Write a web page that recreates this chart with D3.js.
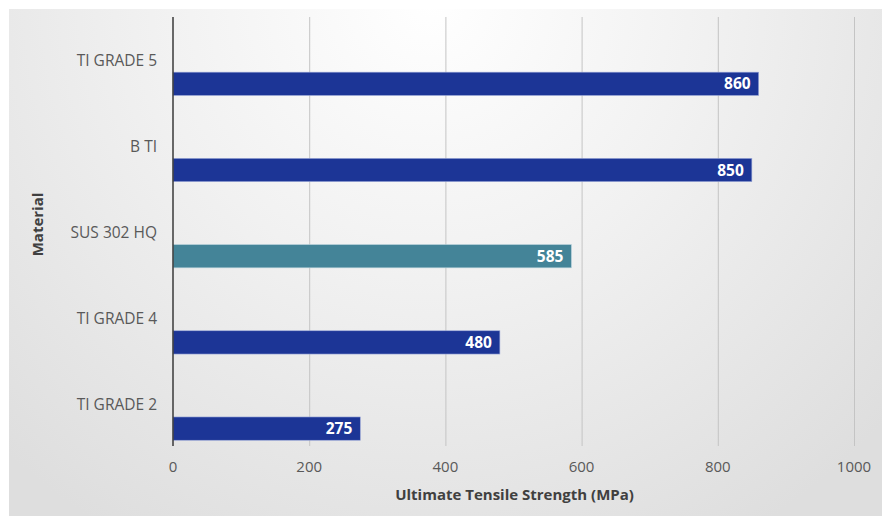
<!DOCTYPE html>
<html>
<head>
<meta charset="utf-8">
<script src="https://cdn.jsdelivr.net/npm/d3@7"></script>
<style>
html,body{margin:0;padding:0;background:#fff;}
svg{display:block;}
</style>
</head>
<body>
<svg id="chart" width="882" height="516"></svg>
<script>
const categories = ["TI GRADE 5", "B TI", "SUS 302 HQ", "TI GRADE 4", "TI GRADE 2"];
const values = [860, 850, 585, 480, 275];
const highlight = ["SUS 302 HQ"];
const xTicks = [0, 200, 400, 600, 800, 1000];
const xTitle = "Ultimate Tensile Strength (MPa)";
const yTitle = "Material";

const W = 882, H = 516;
const svg = d3.select("#chart");
const defs = svg.append("defs");
const grad = defs.append("radialGradient").attr("id","bg")
  .attr("gradientUnits","userSpaceOnUse")
  .attr("cx", 430).attr("cy", 0).attr("r", 620);
grad.append("stop").attr("offset","0%").attr("stop-color","#ffffff");
grad.append("stop").attr("offset","45%").attr("stop-color","#f1f1f1");
grad.append("stop").attr("offset","100%").attr("stop-color","#dedede");

svg.append("rect").attr("x",9).attr("y",9).attr("width",W-9).attr("height",H-9).attr("fill","url(#bg)");

const m = {left:173, right:854, top:17, bottom:448};
const x = d3.scaleLinear().domain([0,1000]).range([m.left, m.right]);
const y = d3.scaleBand().domain(categories).range([m.top, m.bottom]).padding(0);

const font = "'Open Sans', 'Liberation Sans', sans-serif";

// gridlines
svg.append("g").selectAll("line").data(xTicks.filter(d=>d>0)).join("line")
  .attr("x1", d=>x(d)+0.5).attr("x2", d=>x(d)+0.5)
  .attr("y1", m.top).attr("y2", 446)
  .attr("stroke","#c4c4c4").attr("stroke-width",1);

// bars
const bw = y.bandwidth();
const barH = bw*0.27;
const barOff = bw*0.5 + bw*0.14;
svg.append("g").selectAll("rect").data(categories).join("rect")
  .attr("x", x(0))
  .attr("y", d=>y(d)+barOff)
  .attr("width", (d,i)=>x(values[i])-x(0))
  .attr("height", barH)
  .attr("fill", d=>highlight.includes(d) ? "#448498" : "#1c3596")
  .attr("stroke", d=>highlight.includes(d) ? "#b9d3dc" : "#9aa7d8")
  .attr("stroke-width", 0.6);

// value labels
svg.append("g").selectAll("text").data(categories).join("text")
  .attr("x", (d,i)=>x(values[i])-8)
  .attr("y", d=>y(d)+barOff+barH/2)
  .attr("dy","0.36em")
  .attr("text-anchor","end")
  .attr("fill","#ffffff")
  .attr("font-family",font).attr("font-weight","bold").attr("font-size",15.5)
  .text((d,i)=>values[i]);

// y axis line
svg.append("line").attr("x1",m.left).attr("x2",m.left).attr("y1",m.top).attr("y2",446)
  .attr("stroke","#3a3a3a").attr("stroke-width",1.5);

// category labels
svg.append("g").selectAll("text").data(categories).join("text")
  .attr("x", 157)
  .attr("y", d=>y(d)+bw/2)
  .attr("dy","0.36em")
  .attr("text-anchor","end")
  .attr("fill","#595959")
  .attr("font-family",font).attr("font-size",15.5)
  .text(d=>d);

// x tick labels
svg.append("g").selectAll("text").data(xTicks).join("text")
  .attr("x", d=>x(d))
  .attr("y", 467)
  .attr("dy","0.36em")
  .attr("text-anchor","middle")
  .attr("fill","#595959")
  .attr("font-family",font).attr("font-size",15)
  .text(d=>d);

// axis titles
svg.append("text").attr("x",(m.left+m.right)/2 + 1).attr("y",495).attr("dy","0.36em")
  .attr("text-anchor","middle").attr("fill","#404040")
  .attr("font-family",font).attr("font-weight","bold").attr("font-size",15)
  .text(xTitle);
svg.append("text").attr("transform",`translate(38,${(m.top+m.bottom)/2 - 8}) rotate(-90)`)
  .attr("dy","0.36em")
  .attr("text-anchor","middle").attr("fill","#404040")
  .attr("font-family",font).attr("font-weight","bold").attr("font-size",15)
  .text(yTitle);
</script>
</body>
</html>
